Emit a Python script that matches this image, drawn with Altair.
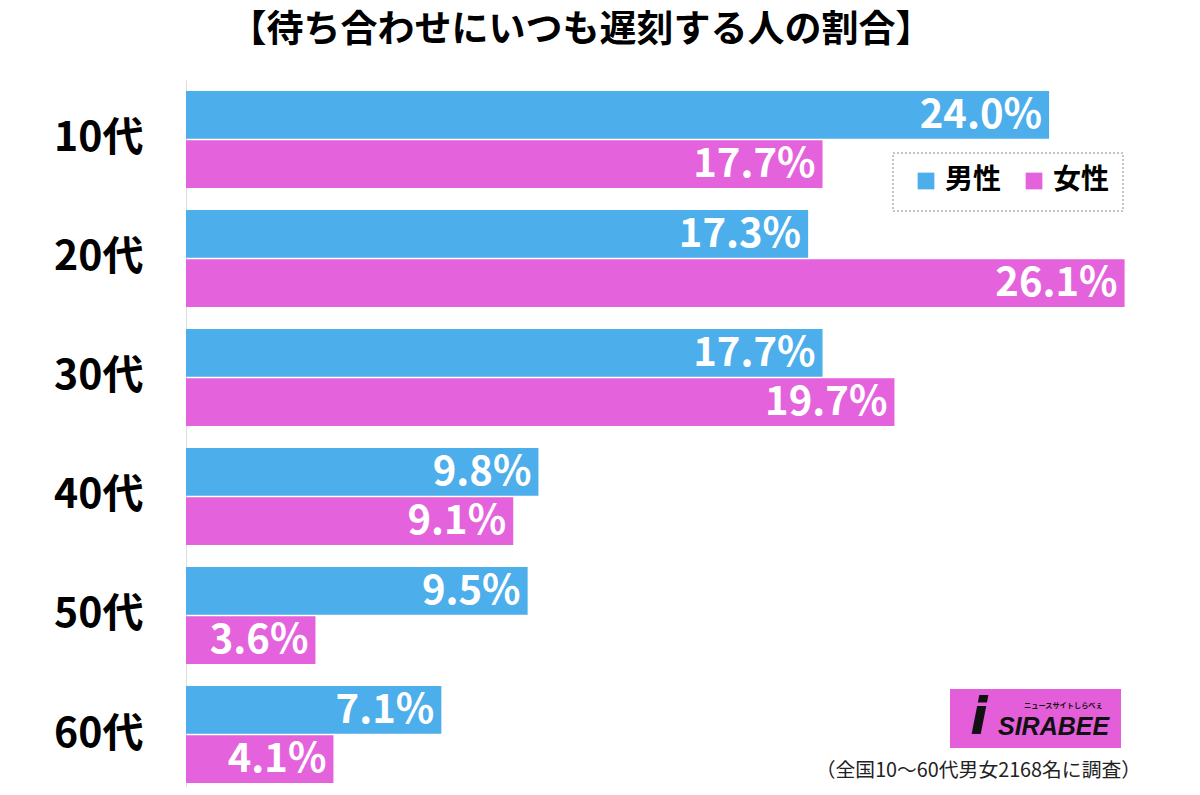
import altair as alt
import pandas as pd

ages = ["10代", "20代", "30代", "40代", "50代", "60代"]
male = [24.0, 17.3, 17.7, 9.8, 9.5, 7.1]
female = [17.7, 26.1, 19.7, 9.1, 3.6, 4.1]
genders = ["男性", "女性"]
colors = ["#4CAEEA", "#E562DD"]

title_text = "【待ち合わせにいつも遅刻する人の割合】"
note_text = "（全国10～60代男女2168名に調査）"

rows = []
for a, m, f in zip(ages, male, female):
    rows.append({"age": a, "gender": "男性", "value": m, "label": f"{m:.1f}%"})
    rows.append({"age": a, "gender": "女性", "value": f, "label": f"{f:.1f}%"})
df = pd.DataFrame(rows)

FONT = "Noto Sans CJK JP"
W, H = 944, 707

x_enc = alt.X("value:Q", scale=alt.Scale(domain=[0, 26.25], nice=False, zero=True), axis=None)
y_enc = alt.Y("age:N", sort=ages,
              scale=alt.Scale(paddingInner=0.185, paddingOuter=0.063, align=0.733),
              axis=alt.Axis(title=None, ticks=False, labelFontSize=41, labelFont=FONT,
                            labelFontWeight="bold", labelColor="#000000", labelPadding=43,
                            domainColor="#dddddd", domainWidth=1))
yoff = alt.YOffset("gender:N", sort=genders, scale=alt.Scale(domain=genders, paddingInner=0.03))

legend_box = alt.Chart(pd.DataFrame({"t": [1]})).mark_rect(
    fill="white", stroke="#888888", strokeDash=[2, 2], strokeWidth=1).encode(
    x=alt.value(707), x2=alt.value(937), y=alt.value(73), y2=alt.value(131))

bars = alt.Chart(df).mark_bar().encode(
    x=x_enc, y=y_enc, yOffset=yoff,
    color=alt.Color("gender:N", scale=alt.Scale(domain=genders, range=colors),
                    legend=alt.Legend(title=None, orient="none", legendX=702, legendY=73,
                                      direction="horizontal", symbolType="square",
                                      symbolSize=280, symbolStrokeWidth=0,
                                      labelFontSize=28, labelFont=FONT, labelFontWeight="bold",
                                      labelColor="#000000",
                                      padding=14, columnPadding=8,
                                      symbolOffset=10, labelOffset=5))
)

labels = alt.Chart(df).mark_text(align="right", baseline="middle", dx=-7, dy=1,
                                  font=FONT, fontWeight="bold", fontSize=40, color="white").encode(
    x=x_enc, y=alt.Y("age:N", sort=ages), yOffset=yoff, text="label:N"
)

title = alt.Chart(pd.DataFrame({"t": [title_text]})).mark_text(
    align="center", baseline="middle", font=FONT, fontWeight="bold",
    fontSize=37, color="#000000").encode(
    x=alt.value(395), y=alt.value(-49), text="t:N")

note = alt.Chart(pd.DataFrame({"t": [note_text]})).mark_text(
    align="right", baseline="middle", font=FONT, fontSize=19.8, color="#222222").encode(
    x=alt.value(955), y=alt.value(691), text="t:N")

logo_bg = alt.Chart(pd.DataFrame({"t": [1]})).mark_rect(color="#E45EDA").encode(
    x=alt.value(764), x2=alt.value(935), y=alt.value(609), y2=alt.value(668))
logo_i = alt.Chart(pd.DataFrame({"t": ["i"]})).mark_text(
    align="center", baseline="middle", font="DejaVu Sans", fontWeight="bold", fontStyle="italic",
    fontSize=52, color="#111111").encode(x=alt.value(793), y=alt.value(638), text="t:N")
logo_s = alt.Chart(pd.DataFrame({"t": ["SIRABEE"]})).mark_text(
    align="left", baseline="middle", font="Liberation Sans",
    fontWeight="bold", fontStyle="italic",
    fontSize=25, color="#111111").encode(x=alt.value(812), y=alt.value(647), text="t:N")
logo_k = alt.Chart(pd.DataFrame({"t": ["ニュースサイトしらべぇ"]})).mark_text(
    align="left", baseline="middle", font=FONT, fontWeight="bold",
    fontSize=7.2, color="#111111").encode(x=alt.value(838), y=alt.value(626), text="t:N")

chart = alt.layer(legend_box, bars, labels, title, note, logo_bg, logo_i, logo_s, logo_k).properties(
    width=W, height=H, autosize=alt.AutoSizeParams(type="none"),
    padding={"left": 178, "top": 72, "right": 62, "bottom": 0},
    background="white"
).configure_view(stroke=None)

chart.save("out.html", embed_options={"renderer": "svg", "actions": False})
